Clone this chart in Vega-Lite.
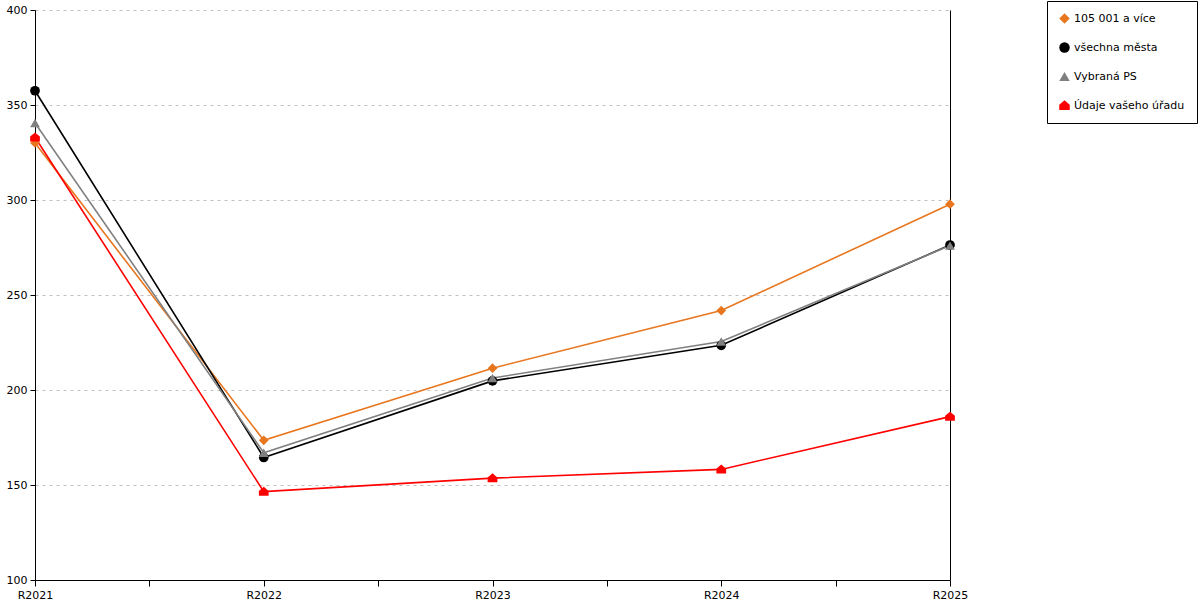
{
  "$schema": "https://vega.github.io/schema/vega-lite/v6.json",
  "width": 915,
  "height": 570,
  "autosize": "none",
  "padding": {"left": 35, "top": 10, "right": 250, "bottom": 20},
  "background": "white",
  "data": {
    "values": [
      {"rok": 2021, "serie": "105 001 a více", "hodnota": 330},
      {"rok": 2022, "serie": "105 001 a více", "hodnota": 173.5},
      {"rok": 2023, "serie": "105 001 a více", "hodnota": 211.5},
      {"rok": 2024, "serie": "105 001 a více", "hodnota": 241.8},
      {"rok": 2025, "serie": "105 001 a více", "hodnota": 297.8},
      {"rok": 2021, "serie": "všechna města", "hodnota": 357.5},
      {"rok": 2022, "serie": "všechna města", "hodnota": 164.5},
      {"rok": 2023, "serie": "všechna města", "hodnota": 204.8},
      {"rok": 2024, "serie": "všechna města", "hodnota": 223.5},
      {"rok": 2025, "serie": "všechna města", "hodnota": 276.3},
      {"rok": 2021, "serie": "Vybraná PS", "hodnota": 340.5},
      {"rok": 2022, "serie": "Vybraná PS", "hodnota": 167},
      {"rok": 2023, "serie": "Vybraná PS", "hodnota": 206.3},
      {"rok": 2024, "serie": "Vybraná PS", "hodnota": 225.5},
      {"rok": 2025, "serie": "Vybraná PS", "hodnota": 276},
      {"rok": 2021, "serie": "Údaje vašeho úřadu", "hodnota": 333},
      {"rok": 2022, "serie": "Údaje vašeho úřadu", "hodnota": 146.5},
      {"rok": 2023, "serie": "Údaje vašeho úřadu", "hodnota": 153.6},
      {"rok": 2024, "serie": "Údaje vašeho úřadu", "hodnota": 158.2},
      {"rok": 2025, "serie": "Údaje vašeho úřadu", "hodnota": 186}
    ]
  },
  "encoding": {
    "x": {
      "field": "rok",
      "type": "quantitative",
      "title": null,
      "scale": {"domain": [2021, 2025], "nice": false, "zero": false},
      "axis": {
        "values": [2021, 2021.5, 2022, 2022.5, 2023, 2023.5, 2024, 2024.5, 2025],
        "labelExpr": "datum.value % 1 == 0 ? 'R' + datum.value : ''",
        "grid": false,
        "labelFlush": false,
        "labelOverlap": false,
        "labelPadding": 3,
        "tickSize": 6
      }
    },
    "color": {
      "field": "serie",
      "type": "nominal",
      "title": null,
      "scale": {
        "domain": ["105 001 a více", "všechna města", "Vybraná PS", "Údaje vašeho úřadu"],
        "range": ["#e8761e", "#000000", "#808080", "#ff0000"]
      },
      "legend": {
        "orient": "none",
        "legendX": 1012,
        "legendY": -9
      }
    }
  },
  "layer": [
    {
      "mark": {"type": "line", "strokeWidth": 1.6},
      "encoding": {
        "y": {
          "field": "hodnota",
          "type": "quantitative",
          "title": null,
          "scale": {"domain": [100, 400], "nice": false, "zero": false},
          "axis": {
            "values": [100, 150, 200, 250, 300, 350, 400],
            "grid": true,
            "gridColor": "#c0c0c0",
            "gridDash": [3, 4],
            "labelPadding": 3,
            "tickSize": 5
          }
        }
      }
    },
    {
      "mark": {"type": "point", "filled": true, "opacity": 1, "size": 95},
      "encoding": {
        "y": {
          "field": "hodnota",
          "type": "quantitative",
          "axis": {"orient": "right", "labels": false, "ticks": false, "grid": false, "title": null}
        },
        "shape": {
          "field": "serie",
          "type": "nominal",
          "title": null,
          "scale": {
            "domain": ["105 001 a více", "všechna města", "Vybraná PS", "Údaje vašeho úřadu"],
            "range": ["diamond", "circle", "triangle-up", "M0,-1L1,-0.15L1,0.85L-1,0.85L-1,-0.15Z"]
          }
        }
      }
    }
  ],
  "resolve": {"axis": {"y": "independent"}},
  "config": {
    "font": "DejaVu Sans",
    "view": {"stroke": null},
    "axis": {
      "domainColor": "black",
      "tickColor": "black",
      "labelColor": "black",
      "labelFontSize": 11,
      "labelFont": "DejaVu Sans"
    },
    "legend": {
      "strokeColor": "black",
      "fillColor": "white",
      "padding": 12,
      "labelFontSize": 11,
      "labelFont": "DejaVu Sans",
      "labelColor": "black",
      "labelLimit": 300,
      "symbolSize": 110,
      "symbolStrokeWidth": 0,
      "rowPadding": 17,
      "labelOffset": 4
    }
  }
}
